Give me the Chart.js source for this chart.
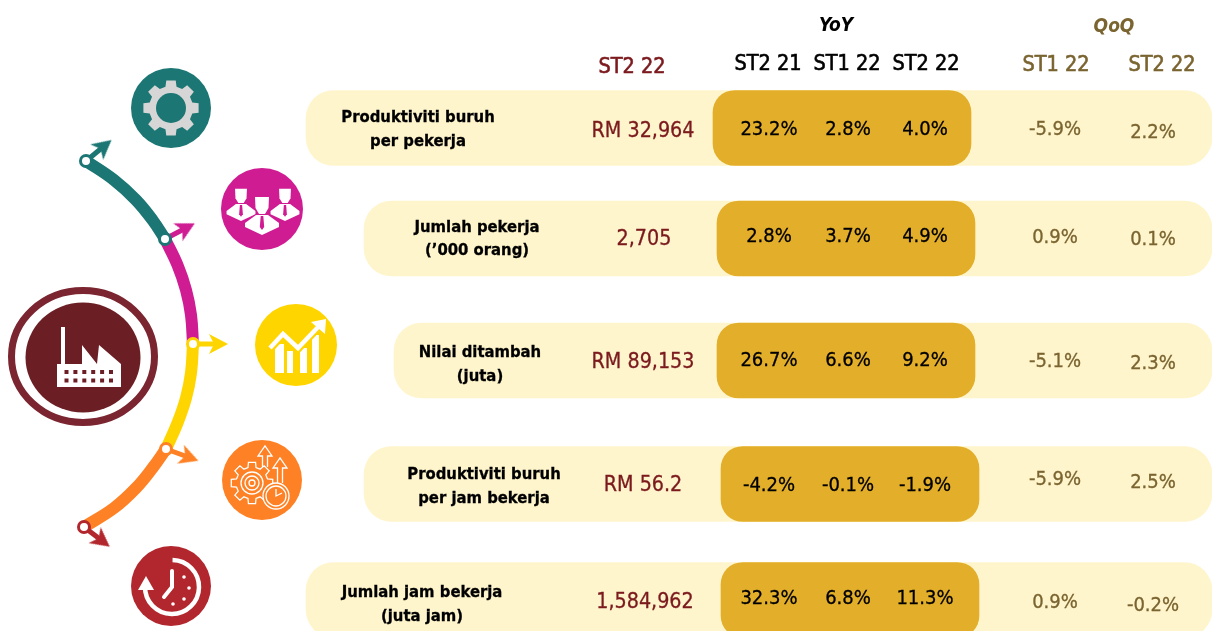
<!DOCTYPE html>
<html>
<head>
<meta charset="utf-8">
<style>
  html, body { margin: 0; padding: 0; background: #fff; overflow: hidden; }
  canvas { display: block; }
</style>
<script src="https://cdn.jsdelivr.net/npm/chart.js@4"></script>
</head>
<body>
<canvas id="chart" width="1212" height="631"></canvas>
<script>
// values
const rowLabels = [
  ["Produktiviti buruh", "per pekerja"],
  ["Jumlah pekerja", "(’000 orang)"],
  ["Nilai ditambah", "(juta)"],
  ["Produktiviti buruh", "per jam bekerja"],
  ["Jumlah jam bekerja", "(juta jam)"]
];
const currentValues = ["RM 32,964", "2,705", "RM 89,153", "RM 56.2", "1,584,962"];
const yoyST221 = ["23.2%", "2.8%", "26.7%", "-4.2%", "32.3%"];
const yoyST122 = ["2.8%", "3.7%", "6.6%", "-0.1%", "6.8%"];
const yoyST222 = ["4.0%", "4.9%", "9.2%", "-1.9%", "11.3%"];
const qoqST122 = ["-5.9%", "0.9%", "-5.1%", "-5.9%", "0.9%"];
const qoqST222 = ["2.2%", "0.1%", "2.3%", "2.5%", "-0.2%"];

// layout, in the units of the hidden x and y axes
const rowY = [128, 238.5, 360.5, 484, 600];
const pillLeft = [306, 364, 394, 364, 306];
const goldLeft = [713, 717, 717, 721, 721];
const goldWidth = 258;
const labelX = [418, 477, 480, 484, 422];
const labelY = [[117, 141], [227, 250], [352, 376], [474, 498], [592, 616]];
const currentX = [643, 644, 643, 643, 645];
const currentY = [130, 238, 361, 484, 601];
const yoyX = [769, 848, 925];
const yoyY = [129, 236, 360, 485, 598];
const qoqX = [1055, 1153];
const qoqY = [[129, 132], [237, 239], [361, 363], [479, 482], [602, 605]];

const arcTeal = [[86, 161], [114, 180], [136, 200], [152.5, 220], [165, 239]];
const arcMagenta = [[165, 239], [177.5, 265], [186, 290], [191, 315], [193, 344]];
const arcYellow = [[193, 344], [191, 373], [186, 398], [177.5, 423], [166, 449]];
const arcOrange = [[166, 449], [152.5, 468], [136, 488], [114, 508], [84, 527]];
const arrows = [
  { from: [86, 161], to: [103, 147], color: "#1B7674" },
  { from: [165, 239], to: [185, 228.5], color: "#CF1C93" },
  { from: [194, 344], to: [217, 344], color: "#FFD500" },
  { from: [166, 449], to: [188, 457], color: "#FE8225" },
  { from: [84, 527], to: [101, 540], color: "#B2272D" }
];
const iconCircles = [
  { x: 171, y: 108, r: 40, color: "#1B7674" },
  { x: 262, y: 209, r: 41, color: "#CF1C93" },
  { x: 296, y: 345, r: 41, color: "#FFD500" },
  { x: 262, y: 480, r: 40, color: "#FE8225" },
  { x: 171, y: 586, r: 40, color: "#B2272D" }
];

const pale = "#FFF5CC";
const gold = "#E3AF2A";
const maroon = "#7B1A1E";
const olive = "#7A6430";
const valueFont = "'DejaVu Sans Condensed', 'DejaVu Sans'";

function toPoints(list) {
  return list.map((p) => ({ x: p[0], y: p[1] }));
}

function arcDataset(list, color) {
  return {
    type: "line",
    data: toPoints(list),
    borderColor: color,
    borderWidth: 12,
    borderCapStyle: "butt",
    tension: 0.4,
    pointRadius: 0,
    clip: false
  };
}

// notched arrow head, used as a point style
function arrowHead(color) {
  const head = document.createElement("canvas");
  head.width = 22;
  head.height = 22;
  const g = head.getContext("2d");
  g.fillStyle = color;
  g.beginPath();
  g.moveTo(11, 0);
  g.lineTo(21, 19);
  g.lineTo(11, 14);
  g.lineTo(1, 19);
  g.closePath();
  g.fill();
  return head;
}

function arrowDatasets() {
  return arrows.map((a) => {
    const rotation = (Math.atan2(a.to[0] - a.from[0], a.from[1] - a.to[1]) * 180) / Math.PI;
    return {
      type: "line",
      data: toPoints([a.from, a.to]),
      borderColor: a.color,
      borderWidth: 5,
      pointStyle: arrowHead(a.color),
      pointRadius: [0, 11],
      pointRotation: rotation,
      pointBorderWidth: 0
    };
  });
}

function joint(list, color) {
  return {
    type: "scatter",
    data: toPoints(list),
    pointStyle: "circle",
    pointRadius: 5.5,
    pointBorderWidth: 3,
    pointBackgroundColor: "#fff",
    pointBorderColor: color
  };
}

// the reference text is slightly heavier than the regular face, hence the thin stroke
function drawText(ctx, text, x, y, font, color, weight = 0.3) {
  ctx.font = font;
  ctx.fillStyle = color;
  ctx.strokeStyle = color;
  ctx.lineWidth = weight;
  ctx.textAlign = "center";
  ctx.textBaseline = "middle";
  ctx.fillText(text, x, y);
  if (weight) {
    ctx.strokeText(text, x, y);
  }
}

function gearPath(ctx, cx, cy, outer, inner, teeth) {
  ctx.beginPath();
  const step = (Math.PI * 2) / teeth;
  for (let i = 0; i < teeth; i++) {
    const a = i * step - Math.PI / 2;
    const w = step * 0.24;
    ctx.lineTo(cx + inner * Math.cos(a - w * 1.35), cy + inner * Math.sin(a - w * 1.35));
    ctx.lineTo(cx + outer * Math.cos(a - w * 0.9), cy + outer * Math.sin(a - w * 0.9));
    ctx.lineTo(cx + outer * Math.cos(a + w * 0.9), cy + outer * Math.sin(a + w * 0.9));
    ctx.lineTo(cx + inner * Math.cos(a + w * 1.35), cy + inner * Math.sin(a + w * 1.35));
  }
  ctx.closePath();
}

function circle(ctx, cx, cy, r) {
  ctx.beginPath();
  ctx.arc(cx, cy, r, 0, Math.PI * 2);
}

function drawGearIcon(ctx, c) {
  gearPath(ctx, c.x, c.y, 28, 22, 8);
  ctx.fillStyle = "#D6D6D6";
  ctx.fill();
  circle(ctx, c.x, c.y, 15);
  ctx.fillStyle = c.color;
  ctx.fill();
}

function drawPerson(ctx, x, y, s, bg) {
  ctx.fillStyle = "#fff";
  ctx.strokeStyle = bg;
  ctx.lineWidth = 2;
  ctx.beginPath();
  ctx.moveTo(x - 7 * s, y - 12 * s);
  ctx.lineTo(x + 7 * s, y - 12 * s);
  ctx.lineTo(x + 6.5 * s, y - 1 * s);
  ctx.lineTo(x + 3 * s, y + 5 * s);
  ctx.lineTo(x - 3 * s, y + 5 * s);
  ctx.lineTo(x - 6.5 * s, y - 1 * s);
  ctx.closePath();
  ctx.fill();
  ctx.beginPath();
  ctx.moveTo(x - 6 * s, y + 6 * s);
  ctx.lineTo(x + 6 * s, y + 6 * s);
  ctx.lineTo(x + 17 * s, y + 14 * s);
  ctx.lineTo(x + 17 * s, y + 18 * s);
  ctx.lineTo(x, y + 26 * s);
  ctx.lineTo(x - 17 * s, y + 18 * s);
  ctx.lineTo(x - 17 * s, y + 14 * s);
  ctx.closePath();
  ctx.stroke();
  ctx.fill();
  ctx.fillStyle = bg;
  ctx.beginPath();
  ctx.moveTo(x - 1.3 * s, y + 7 * s);
  ctx.lineTo(x + 1.3 * s, y + 7 * s);
  ctx.lineTo(x + 2.2 * s, y + 18 * s);
  ctx.lineTo(x, y + 21 * s);
  ctx.lineTo(x - 2.2 * s, y + 18 * s);
  ctx.closePath();
  ctx.fill();
}

function drawPeopleIcon(ctx, c) {
  drawPerson(ctx, c.x - 21, c.y - 10, 0.85, c.color);
  drawPerson(ctx, c.x + 23, c.y - 10, 0.85, c.color);
  drawPerson(ctx, c.x, c.y, 1, c.color);
}

function drawGrowthIcon(ctx, c) {
  ctx.fillStyle = "#fff";
  [[-21, 9, 5], [-9, 6, 12], [4, 7, 9], [16, 7, -4]].forEach((b) => {
    ctx.fillRect(c.x + b[0], c.y + b[2] - 6, b[1], 34 - b[2]);
  });
  ctx.strokeStyle = c.color;
  ctx.lineWidth = 9;
  ctx.beginPath();
  ctx.moveTo(c.x - 26, c.y + 3);
  ctx.lineTo(c.x - 13, c.y - 11);
  ctx.lineTo(c.x + 2, c.y + 3);
  ctx.lineTo(c.x + 24, c.y - 20);
  ctx.stroke();
  ctx.strokeStyle = "#fff";
  ctx.lineWidth = 4.5;
  ctx.stroke();
  ctx.fillStyle = "#fff";
  ctx.beginPath();
  ctx.moveTo(c.x + 30, c.y - 26);
  ctx.lineTo(c.x + 29, c.y - 11);
  ctx.lineTo(c.x + 15, c.y - 23);
  ctx.closePath();
  ctx.fill();
}

function drawProcessIcon(ctx, c) {
  ctx.strokeStyle = "#fff";
  ctx.lineWidth = 1.3;
  gearPath(ctx, c.x - 10, c.y + 3, 21, 16, 8);
  ctx.stroke();
  [11, 7, 3].forEach((r) => {
    circle(ctx, c.x - 10, c.y + 3, r);
    ctx.stroke();
  });
  [[3, -34, -13], [18, -22, 3]].forEach((a) => {
    ctx.beginPath();
    ctx.moveTo(c.x + a[0] - 2.5, c.y + a[2]);
    ctx.lineTo(c.x + a[0] - 2.5, c.y + a[1] + 10);
    ctx.lineTo(c.x + a[0] - 7, c.y + a[1] + 10);
    ctx.lineTo(c.x + a[0], c.y + a[1]);
    ctx.lineTo(c.x + a[0] + 7, c.y + a[1] + 10);
    ctx.lineTo(c.x + a[0] + 2.5, c.y + a[1] + 10);
    ctx.lineTo(c.x + a[0] + 2.5, c.y + a[2]);
    ctx.stroke();
  });
  circle(ctx, c.x + 14, c.y + 16, 13);
  ctx.fillStyle = c.color;
  ctx.fill();
  ctx.stroke();
  circle(ctx, c.x + 14, c.y + 16, 10);
  ctx.stroke();
  ctx.beginPath();
  ctx.moveTo(c.x + 14, c.y + 9);
  ctx.lineTo(c.x + 14, c.y + 16);
  ctx.lineTo(c.x + 20, c.y + 13);
  ctx.stroke();
}

function drawClockIcon(ctx, c) {
  const cx = c.x + 1;
  const cy = c.y + 1;
  ctx.strokeStyle = "#fff";
  ctx.lineWidth = 4.5;
  ctx.beginPath();
  ctx.arc(cx, cy, 27, -Math.PI / 2 + 0.02, Math.PI * 1.03);
  ctx.stroke();
  ctx.fillStyle = "#fff";
  ctx.beginPath();
  ctx.moveTo(cx - 34, cy + 3);
  ctx.lineTo(cx - 18, cy + 3);
  ctx.lineTo(cx - 26, cy - 11);
  ctx.closePath();
  ctx.fill();
  ctx.lineWidth = 4;
  ctx.lineCap = "round";
  ctx.beginPath();
  ctx.moveTo(cx, cy - 16);
  ctx.lineTo(cx, cy);
  ctx.lineTo(cx - 8, cy + 10);
  ctx.stroke();
  ctx.lineCap = "butt";
  [[12, -10], [17, 1], [12, 12], [1, 17]].forEach((d) => {
    circle(ctx, cx + d[0], cy + d[1], 1.8);
    ctx.fill();
  });
}

function drawFactoryBadge(ctx, x, y) {
  ctx.strokeStyle = "#7A2530";
  ctx.lineWidth = 7;
  ctx.beginPath();
  ctx.ellipse(x(83), y(356.5), 71.5, 66, 0, 0, Math.PI * 2);
  ctx.stroke();
  ctx.fillStyle = "#6B1F24";
  ctx.beginPath();
  ctx.ellipse(x(83), y(357.5), 57.5, 55, 0, 0, Math.PI * 2);
  ctx.fill();

  ctx.fillStyle = "#fff";
  ctx.beginPath();
  ctx.moveTo(x(57), y(387));
  ctx.lineTo(x(57), y(364));
  ctx.lineTo(x(61), y(364));
  ctx.lineTo(x(61), y(327));
  ctx.lineTo(x(65), y(327));
  ctx.lineTo(x(65), y(364));
  ctx.lineTo(x(82), y(364));
  ctx.lineTo(x(82), y(345));
  ctx.lineTo(x(97), y(364));
  ctx.lineTo(x(99), y(345));
  ctx.lineTo(x(121), y(364));
  ctx.lineTo(x(121), y(387));
  ctx.closePath();
  ctx.fill();
  ctx.fillStyle = "#6B1F24";
  for (let r = 0; r < 2; r++) {
    for (let i = 0; i < 6; i++) {
      ctx.fillRect(x(64.5 + i * 8.9), y(370 + r * 8.5), 4, 4);
    }
  }
}

const iconDrawers = [drawGearIcon, drawPeopleIcon, drawGrowthIcon, drawProcessIcon, drawClockIcon];

const overlayPlugin = {
  id: "overlay",
  afterDatasetsDraw(chart) {
    const ctx = chart.ctx;
    const xs = chart.scales.x;
    const ys = chart.scales.y;
    const x = (v) => xs.getPixelForValue(v);
    const y = (v) => ys.getPixelForValue(v);
    ctx.save();

    drawFactoryBadge(ctx, x, y);
    iconCircles.forEach((c, i) => {
      iconDrawers[i](ctx, { x: x(c.x), y: y(c.y), color: c.color });
    });

    const header = `500 21.5px ${valueFont}`;
    drawText(ctx, "YoY", x(836), y(26), `italic 700 19px ${valueFont}`, "#000", 0);
    drawText(ctx, "QoQ", x(1114), y(27), `italic 700 19px ${valueFont}`, olive, 0);
    drawText(ctx, "ST2 22", x(632), y(67), header, maroon, 0.6);
    drawText(ctx, "ST2 21", x(768), y(64), header, "#000", 0.6);
    drawText(ctx, "ST1 22", x(847), y(64), header, "#000", 0.6);
    drawText(ctx, "ST2 22", x(926), y(64), header, "#000", 0.6);
    drawText(ctx, "ST1 22", x(1056), y(65), header, olive, 0.6);
    drawText(ctx, "ST2 22", x(1162), y(65), header, olive, 0.6);

    const value = `500 20px ${valueFont}`;
    const current = `500 21.3px ${valueFont}`;
    rowLabels.forEach((label, i) => {
      label.forEach((line, j) => {
        drawText(ctx, line, x(labelX[i]), y(labelY[i][j] + 1), `700 16.5px ${valueFont}`, "#000", 0.3);
      });
      drawText(ctx, currentValues[i], x(currentX[i]), y(currentY[i] + 1), current, maroon);
      [yoyST221, yoyST122, yoyST222].forEach((col, k) => {
        drawText(ctx, col[i], x(yoyX[k]), y(yoyY[i] + 1), value, "#000");
      });
      [qoqST122, qoqST222].forEach((col, k) => {
        drawText(ctx, col[i], x(qoqX[k]), y(qoqY[i][k] + 1), value, olive);
      });
    });
    ctx.restore();
  }
};

const ctx = document.querySelector("#chart");
const barDefaults = {
  type: "bar",
  barThickness: 75,
  borderSkipped: false,
  grouped: false
};
const data = {
  datasets: [
    joint([arcTeal[0], arcMagenta[0]], "#1B7674"),
    joint([arcYellow[0]], "#FFD500"),
    joint([arcOrange[0]], "#FE8225"),
    joint([arcOrange[4]], "#B2272D"),
    {
      type: "scatter",
      data: iconCircles.map((c) => ({ x: c.x, y: c.y })),
      pointStyle: "circle",
      pointRadius: iconCircles.map((c) => c.r),
      pointBackgroundColor: iconCircles.map((c) => c.color),
      pointBorderWidth: 0
    },
    ...arrowDatasets(),
    arcDataset(arcTeal, "#1B7674"),
    arcDataset(arcMagenta, "#CF1C93"),
    arcDataset(arcYellow, "#FFD500"),
    arcDataset(arcOrange, "#FE8225"),
    {
      ...barDefaults,
      data: rowY.map((r, i) => ({ x: [goldLeft[i], goldLeft[i] + goldWidth], y: r })),
      backgroundColor: gold,
      borderRadius: 22
    },
    {
      ...barDefaults,
      data: rowY.map((r, i) => ({ x: [pillLeft[i], 1212], y: r })),
      backgroundColor: pale,
      borderRadius: 28
    }
  ]
};
const options = {
  indexAxis: "y",
  responsive: false,
  animation: false,
  events: [],
  layout: { padding: 0, autoPadding: false },
  scales: {
    x: { type: "linear", min: 0, max: 1212, offset: false, display: false },
    y: { type: "linear", min: 0, max: 631, offset: false, reverse: true, display: false }
  },
  plugins: {
    legend: { display: false },
    tooltip: { enabled: false }
  }
};
const config = {
  data: data,
  options: options,
  plugins: [overlayPlugin]
};
const infographic = new Chart(ctx, config);
</script>
</body>
</html>
